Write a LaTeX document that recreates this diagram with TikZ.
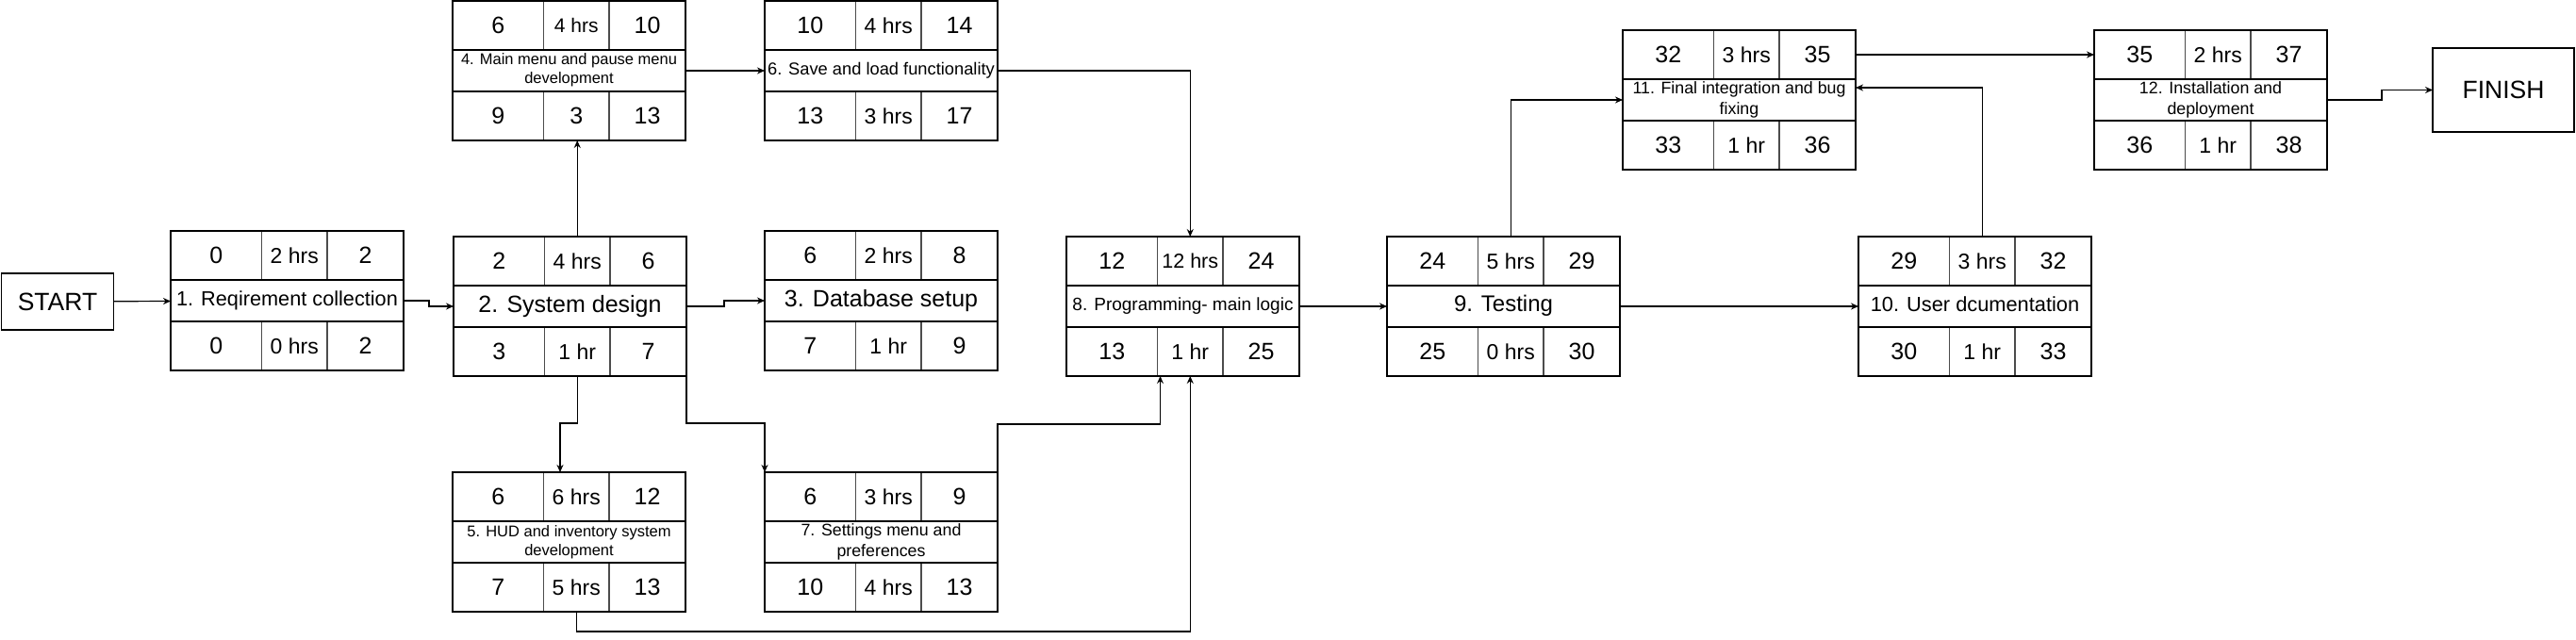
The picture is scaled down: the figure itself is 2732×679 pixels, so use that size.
\documentclass[tikz,border=0pt]{standalone}
\usepackage{fontspec}
\setmainfont{Liberation Sans}
\usetikzlibrary{arrows.meta,positioning,calc}

\newcommand{\txtsize}[2]{\fontsize{#1}{#2}\selectfont}
% title text: size, line skip, lines
\newcommand{\ttl}[3]{\txtsize{#1}{#2}\begin{tabular}{@{}c@{}}#3\end{tabular}}

\tikzset{
  cell/.style={anchor=north west, inner sep=0pt, outer sep=0pt, font=\txtsize{25}{30}},
  hrs/.style={font=\txtsize{23}{27}},
  boxline/.style={line width=2pt},
  rowline/.style={line width=2.4pt},
  colline/.style={line width=1.3pt, black!70},
  endbox/.style={draw, line width=1.2pt, inner sep=0pt, outer sep=0pt, font=\txtsize{26.5}{32}}
}

% one task: name, top-left corner, ES, duration, EF, title, LS, float, LF
\newcommand{\pertbox}[9]{%
  \node[cell, minimum width=96.5pt, minimum height=52pt] (#1-es) at (#2) {#3};
  \node[cell, hrs, minimum width=69.5pt, minimum height=52pt] (#1-du) at (#1-es.north east) {#4};
  \node[cell, minimum width=81pt, minimum height=52pt] (#1-ef) at (#1-du.north east) {#5};
  \node[cell, minimum width=247pt, minimum height=44pt] (#1) at (#1-es.south west) {#6};
  \node[cell, minimum width=96.5pt, minimum height=52pt] (#1-ls) at (#1.south west) {#7};
  \node[cell, hrs, minimum width=69.5pt, minimum height=52pt] (#1-fl) at (#1-ls.north east) {#8};
  \node[cell, minimum width=81pt, minimum height=52pt] (#1-lf) at (#1-fl.north east) {#9};
  \draw[colline] (#1-du.north west) -- (#1-du.south west) (#1-du.north east) -- (#1-du.south east)
                 (#1-fl.north west) -- (#1-fl.south west) (#1-fl.north east) -- (#1-fl.south east);
  \draw[rowline] (#1.north west) -- (#1.north east) (#1.south west) -- (#1.south east);
  \draw[boxline] (#1-es.north west) rectangle (#1-lf.south east);
}

\begin{document}
\begin{tikzpicture}[
    x=1pt, y=-1pt,
    >={Stealth[length=8pt,width=7pt]},
    arrow/.style={->, line width=1.2pt}
  ]
  \useasboundingbox (0,0) rectangle (2732,679);

  % start and finish
  \node[endbox, minimum width=119pt, minimum height=60pt] (start) at (61,320) {START};
  \node[endbox, minimum width=150pt, minimum height=89pt] (finish) at (2655,95.5) {FINISH};

  % tasks
  \pertbox{b1}{181,245}{0}{2 hrs}{2}{\ttl{21.7}{26}{1. Reqirement collection}}{0}{0 hrs}{2}
  \pertbox{b2}{481,251}{2}{4 hrs}{6}{\ttl{25}{30}{2. System design}}{3}{1 hr}{7}
  \pertbox{b3}{811,245}{6}{2 hrs}{8}{\ttl{25}{30}{3. Database setup}}{7}{1 hr}{9}
  \pertbox{b4}{480,1}{6}{\txtsize{21}{25}4 hrs}{10}{\ttl{16.5}{20}{4. Main menu and pause menu\\development}}{9}{\txtsize{25}{30}3}{13}
  \pertbox{b5}{480,501}{6}{6 hrs}{12}{\ttl{16.5}{20}{5. HUD and inventory system\\development}}{7}{5 hrs}{13}
  \pertbox{b6}{811,1}{10}{4 hrs}{14}{\ttl{18.3}{22}{6. Save and load functionality}}{13}{3 hrs}{17}
  \pertbox{b7}{811,501}{6}{3 hrs}{9}{\ttl{17.8}{21.5}{7. Settings menu and\\preferences}}{10}{4 hrs}{13}
  \pertbox{b8}{1131,251}{12}{\txtsize{21.5}{26}12 hrs}{24}{\ttl{19}{23}{8. Programming- main logic}}{13}{1 hr}{25}
  \pertbox{b9}{1471,251}{24}{5 hrs}{29}{\ttl{24}{29}{9. Testing}}{25}{0 hrs}{30}
  \pertbox{b10}{1971,251}{29}{3 hrs}{32}{\ttl{21.8}{26}{10. User dcumentation}}{30}{1 hr}{33}
  \pertbox{b11}{1721,32}{32}{3 hrs}{35}{\ttl{17.8}{21.5}{11. Final integration and bug\\fixing}}{33}{1 hr}{36}
  \pertbox{b12}{2221,32}{35}{2 hrs}{37}{\ttl{17.8}{21.5}{12. Installation and\\deployment}}{36}{1 hr}{38}

  % free ends
  \coordinate (b5in) at ($(b5-du.north west)+(17.5,0)$);
  \coordinate (b8in) at ($(b8-fl.south west)+(3,0)$);
  \coordinate (b11r) at ($(b11.east)+(0,-13)$);

  % connections
  \draw[arrow] (start) -- (b1);
  \draw[arrow] (b1.east) -- ++(27,0) |- (b2.west);
  \draw[arrow] (b2.east) -- ++(40,0) |- (b3.west);
  \draw[arrow] (b2-du.north) -- (b2-du.north |- b4-fl.south);
  \draw[arrow] (b4) -- (b6);
  \draw[arrow] (b6.east) -| (b8-du.north);
  \draw[arrow] (b2-fl.south) -- ++(0,50) -| (b5in);
  \draw[arrow] (b2-lf.south east) -- ++(0,50) -| (b7-es.north west);
  \draw[arrow] (b7-ef.north east) -- ++(0,-51) -| (b8in);
  \draw[arrow] (b5-fl.south) -- ++(0,21) -| (b8-fl.south);
  \draw[arrow] (b8) -- (b9);
  \draw[arrow] (b9) -- (b10);
  \draw[arrow] (b9-du.north) |- (b11.west);
  \draw[arrow] (b10-du.north) |- (b11r);
  \draw[arrow] (b11-ef) -- (b12-es);
  \draw[arrow] (b12.east) -- ++(58,0) |- (finish.west);
\end{tikzpicture}
\end{document}
